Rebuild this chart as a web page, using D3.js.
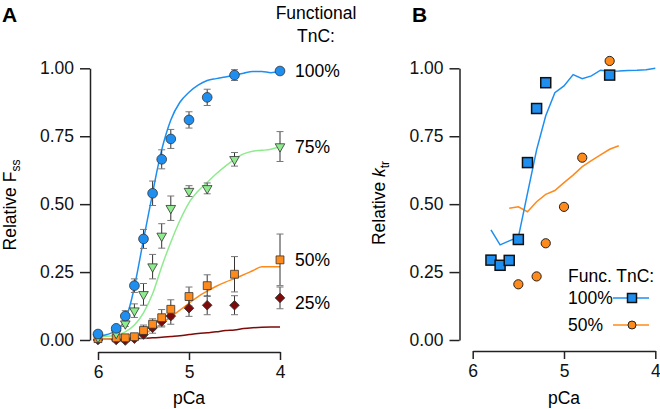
<!DOCTYPE html>
<html><head><meta charset="utf-8">
<script src="https://cdn.jsdelivr.net/npm/d3@7"></script>
<style>
body{margin:0;background:#fff;}
svg{display:block;font-family:"Liberation Sans",Arial,Helvetica,sans-serif;}
</style></head><body>
<svg id="chart" width="660" height="409"></svg>
<script>
// ---------- Panel A data ----------
const pcaA = [6, 5.8, 5.7, 5.6, 5.5, 5.4, 5.3, 5.2, 5.0, 4.8, 4.5, 4.0];
const fss100 = [0.022, 0.043, 0.088, 0.20, 0.372, 0.54, 0.665, 0.74, 0.81, 0.893, 0.975, 0.99];
const err100 = [0.005, 0.01, 0.02, 0.025, 0.035, 0.045, 0.035, 0.035, 0.03, 0.03, 0.02, 0.005];
const fss75 = [0.01, 0.025, 0.06, 0.108, 0.168, 0.27, 0.383, 0.485, 0.548, 0.558, 0.665, 0.712];
const err75 = [0.005, 0.01, 0.01, 0.025, 0.04, 0.045, 0.045, 0.045, 0.02, 0.02, 0.025, 0.055];
const fss50 = [0.005, 0.008, 0.008, 0.012, 0.035, 0.058, 0.082, 0.113, 0.16, 0.2, 0.242, 0.295];
const err50 = [0.003, 0.005, 0.005, 0.01, 0.02, 0.02, 0.03, 0.035, 0.035, 0.04, 0.065, 0.095];
const fss25 = [0.0, 0.0, -0.002, 0.005, 0.02, 0.045, 0.068, 0.088, 0.117, 0.128, 0.128, 0.155];
const err25 = [0.003, 0.003, 0.003, 0.005, 0.015, 0.02, 0.02, 0.03, 0.03, 0.035, 0.035, 0.04];

// model curves, panel A
const pcaCurve100 = [6.0, 5.9, 5.8, 5.75, 5.7, 5.65, 5.6, 5.55, 5.5, 5.45, 5.4, 5.35, 5.3, 5.25, 5.2, 5.1, 5.0, 4.9, 4.8, 4.7, 4.6, 4.5, 4.4, 4.3, 4.2, 4.1, 4.0];
const curve100 = [0.012, 0.02, 0.035, 0.05, 0.075, 0.125, 0.195, 0.28, 0.37, 0.455, 0.54, 0.625, 0.70, 0.76, 0.81, 0.875, 0.912, 0.938, 0.955, 0.962, 0.968, 0.975, 0.982, 0.988, 0.988, 0.984, 0.99];
const pcaCurve = [6.0, 5.9, 5.8, 5.7, 5.6, 5.5, 5.4, 5.3, 5.2, 5.1, 5.0, 4.9, 4.8, 4.7, 4.6, 4.5, 4.4, 4.3, 4.2, 4.1, 4.0];
const curve75 = [0.01, 0.014, 0.018, 0.03, 0.055, 0.1, 0.17, 0.27, 0.36, 0.44, 0.505, 0.548, 0.58, 0.612, 0.64, 0.665, 0.685, 0.695, 0.698, 0.702, 0.712];
const curve50 = [0.003, 0.003, 0.004, 0.005, 0.01, 0.022, 0.04, 0.06, 0.085, 0.11, 0.135, 0.16, 0.18, 0.198, 0.213, 0.226, 0.24, 0.255, 0.27, 0.27, 0.27];
const curve25 = [0.003, 0.003, 0.004, 0.005, 0.005, 0.006, 0.008, 0.01, 0.013, 0.016, 0.02, 0.024, 0.027, 0.03, 0.035, 0.037, 0.042, 0.045, 0.047, 0.048, 0.048];

// ---------- Panel B data ----------
const pcaB100 = [5.8, 5.7, 5.6, 5.5, 5.4, 5.3, 5.2, 4.5];
const ktr100 = [0.294, 0.275, 0.293, 0.37, 0.653, 0.852, 0.947, 0.975];
const pcaB50 = [5.5, 5.3, 5.2, 5.0, 4.8, 4.5];
const ktr50 = [0.205, 0.234, 0.356, 0.49, 0.671, 1.027];
const pcaLineB100 = [5.8, 5.7, 5.6, 5.5, 5.4, 5.3, 5.2, 5.1, 5.0, 4.9, 4.8, 4.7, 4.6, 4.5, 4.4, 4.3, 4.2, 4.1, 4.0];
const lineB100 = [0.405, 0.35, 0.365, 0.378, 0.54, 0.70, 0.825, 0.91, 0.935, 0.977, 0.962, 0.972, 0.993, 0.989, 0.99, 0.992, 0.993, 0.995, 1.0];
const pcaLineB50 = [5.6, 5.5, 5.4, 5.3, 5.2, 5.1, 5.0, 4.9, 4.8, 4.7, 4.6, 4.5, 4.4];
const lineB50 = [0.485, 0.49, 0.472, 0.509, 0.536, 0.55, 0.579, 0.607, 0.638, 0.66, 0.681, 0.702, 0.715];

const yTicks = [0, 0.25, 0.5, 0.75, 1];
const xTicks = [6, 5, 4];
const pctLabels = ["100%", "75%", "50%", "25%"];
const legendLabels = ["100%", "50%"];

// ---------- drawing ----------
const svg = d3.select("#chart");
const C = {blue:"#1E8FF0", green:"#8EEB8E", orange:"#FF8A1C", red:"#7E0A0A"};
const FS = 17.5;

const y = d3.scaleLinear().domain([0, 1]).range([340, 68.3]);
const xA = d3.scaleLinear().domain([6, 4]).range([98, 280]);
const xB = d3.scaleLinear().domain([6, 4]).range([472.7, 655.3]);

function drawAxes(x, yAxisX, xAxisY) {
  const gy = svg.append("g").attr("transform", `translate(${yAxisX},0)`)
    .call(d3.axisLeft(y).tickValues(yTicks).tickFormat(d3.format(".2f")).tickSize(10).tickSizeOuter(0).tickPadding(6));
  const gx = svg.append("g").attr("transform", `translate(0,${xAxisY})`)
    .call(d3.axisBottom(x).tickValues(xTicks).tickFormat(d3.format("d")).tickSize(8).tickSizeOuter(0).tickPadding(6));
  [gy, gx].forEach(g => {
    g.selectAll("path,line").attr("stroke", "#222").attr("stroke-width", 1.5);
    g.selectAll("text").attr("fill", "#111").style("font-size", FS + "px").style("font-family", "'Liberation Sans',Arial,sans-serif");
  });
}
drawAxes(xA, 90, 352);
drawAxes(xB, 459.5, 351);

// Panel letters
svg.append("text").attr("x", 2).attr("y", 22).text("A").style("font-weight", "bold").style("font-size", "21px");
svg.append("text").attr("x", 412).attr("y", 22).text("B").style("font-weight", "bold").style("font-size", "21px");

// Axis titles
svg.append("text").attr("x", 189).attr("y", 404).attr("text-anchor", "middle").style("font-size", FS + "px").text("pCa");
svg.append("text").attr("x", 564).attr("y", 404).attr("text-anchor", "middle").style("font-size", FS + "px").text("pCa");

const ylA = svg.append("text").attr("transform", "translate(16,205) rotate(-90)").attr("text-anchor", "middle").style("font-size", FS + "px");
ylA.append("tspan").text("Relative F");
ylA.append("tspan").attr("dy", 4).style("font-size", "12px").text("ss");

const ylB = svg.append("text").attr("transform", "translate(385,203) rotate(-90)").attr("text-anchor", "middle").style("font-size", FS + "px");
ylB.append("tspan").text("Relative ");
ylB.append("tspan").style("font-style", "italic").text("k");
ylB.append("tspan").attr("dy", 4).style("font-size", "12px").text("tr");

// Functional TnC header
svg.append("text").attr("x", 316).attr("y", 19).attr("text-anchor", "middle").style("font-size", FS + "px").text("Functional");
svg.append("text").attr("x", 316).attr("y", 42).attr("text-anchor", "middle").style("font-size", FS + "px").text("TnC:");

// ----- Panel A lines -----
const lineGen = (x, xs) => d3.line().x((d, i) => x(xs[i])).y(d => y(d)).curve(d3.curveMonotoneX);
svg.append("path").datum(curve25).attr("d", lineGen(xA, pcaCurve)).attr("fill", "none").attr("stroke", C.red).attr("stroke-width", 1.5);
svg.append("path").datum(curve50).attr("d", lineGen(xA, pcaCurve)).attr("fill", "none").attr("stroke", C.orange).attr("stroke-width", 1.5);
svg.append("path").datum(curve75).attr("d", lineGen(xA, pcaCurve)).attr("fill", "none").attr("stroke", C.green).attr("stroke-width", 1.5);
svg.append("path").datum(curve100).attr("d", lineGen(xA, pcaCurve100)).attr("fill", "none").attr("stroke", C.blue).attr("stroke-width", 1.5);

// ----- Panel A error bars + markers -----
const seriesA = [
  {vals: fss25, errs: err25, color: C.red, sym: d3.symbolSquare, size: 46, rot: 45},
  {vals: fss50, errs: err50, color: C.orange, sym: d3.symbolSquare, size: 62, rot: 0},
  {vals: fss75, errs: err75, color: C.green, sym: d3.symbolTriangle, size: 40, rot: 180},
  {vals: fss100, errs: err100, color: C.blue, sym: d3.symbolCircle, size: 74, rot: 0}
];
seriesA.forEach(s => {
  const g = svg.append("g");
  s.vals.forEach((v, i) => {
    const cx = xA(pcaA[i]);
    const e = s.errs[i];
    g.append("line").attr("x1", cx).attr("x2", cx).attr("y1", y(v - e)).attr("y2", y(v + e)).attr("stroke", "#333").attr("stroke-width", 1);
    [v - e, v + e].forEach(t => g.append("line").attr("x1", cx - 3.5).attr("x2", cx + 3.5).attr("y1", y(t)).attr("y2", y(t)).attr("stroke", "#777").attr("stroke-width", 1));
  });
});
seriesA.forEach(s => {
  const g = svg.append("g");
  s.vals.forEach((v, i) => {
    g.append("path").attr("d", d3.symbol().type(s.sym).size(s.size)())
      .attr("transform", `translate(${xA(pcaA[i])},${y(v)}) rotate(${s.rot})`)
      .attr("fill", s.color).attr("stroke", "#333").attr("stroke-width", 0.8);
  });
});

// percent labels
const pctVals = [fss100[11], fss75[11], fss50[11], fss25[11] - 0.02];
pctLabels.forEach((t, i) => {
  svg.append("text").attr("x", 295).attr("y", y(pctVals[i])).attr("dy", "0.35em").style("font-size", FS + "px").text(t);
});

// ----- Panel B -----
const lineB = (xs) => d3.line().x((d, i) => xB(xs[i])).y(d => y(d));
svg.append("path").datum(lineB50).attr("d", lineB(pcaLineB50)).attr("fill", "none").attr("stroke", C.orange).attr("stroke-width", 1.5);
svg.append("path").datum(lineB100).attr("d", lineB(pcaLineB100)).attr("fill", "none").attr("stroke", C.blue).attr("stroke-width", 1.5);

ktr50.forEach((v, i) => {
  svg.append("circle").attr("cx", xB(pcaB50[i])).attr("cy", y(v)).attr("r", 4.6)
    .attr("fill", C.orange).attr("stroke", "#222").attr("stroke-width", 1);
});
ktr100.forEach((v, i) => {
  svg.append("rect").attr("x", xB(pcaB100[i]) - 5).attr("y", y(v) - 5).attr("width", 10).attr("height", 10)
    .attr("fill", C.blue).attr("stroke", "#111").attr("stroke-width", 1.5);
});

// legend
svg.append("text").attr("x", 568).attr("y", 282).style("font-size", FS + "px").text("Func. TnC:");
const legY = [298, 325];
legendLabels.forEach((t, i) => {
  svg.append("text").attr("x", 568).attr("y", legY[i]).attr("dy", "0.35em").style("font-size", FS + "px").text(t);
  svg.append("line").attr("x1", 613).attr("x2", 649).attr("y1", legY[i]).attr("y2", legY[i])
    .attr("stroke", i === 0 ? C.blue : C.orange).attr("stroke-width", 1.5);
});
svg.append("rect").attr("x", 632 - 4.5).attr("y", legY[0] - 4.5).attr("width", 9).attr("height", 9)
  .attr("fill", C.blue).attr("stroke", "#111").attr("stroke-width", 1.5);
svg.append("circle").attr("cx", 632).attr("cy", legY[1]).attr("r", 4)
  .attr("fill", C.orange).attr("stroke", "#222").attr("stroke-width", 1);
</script>
</body></html>
